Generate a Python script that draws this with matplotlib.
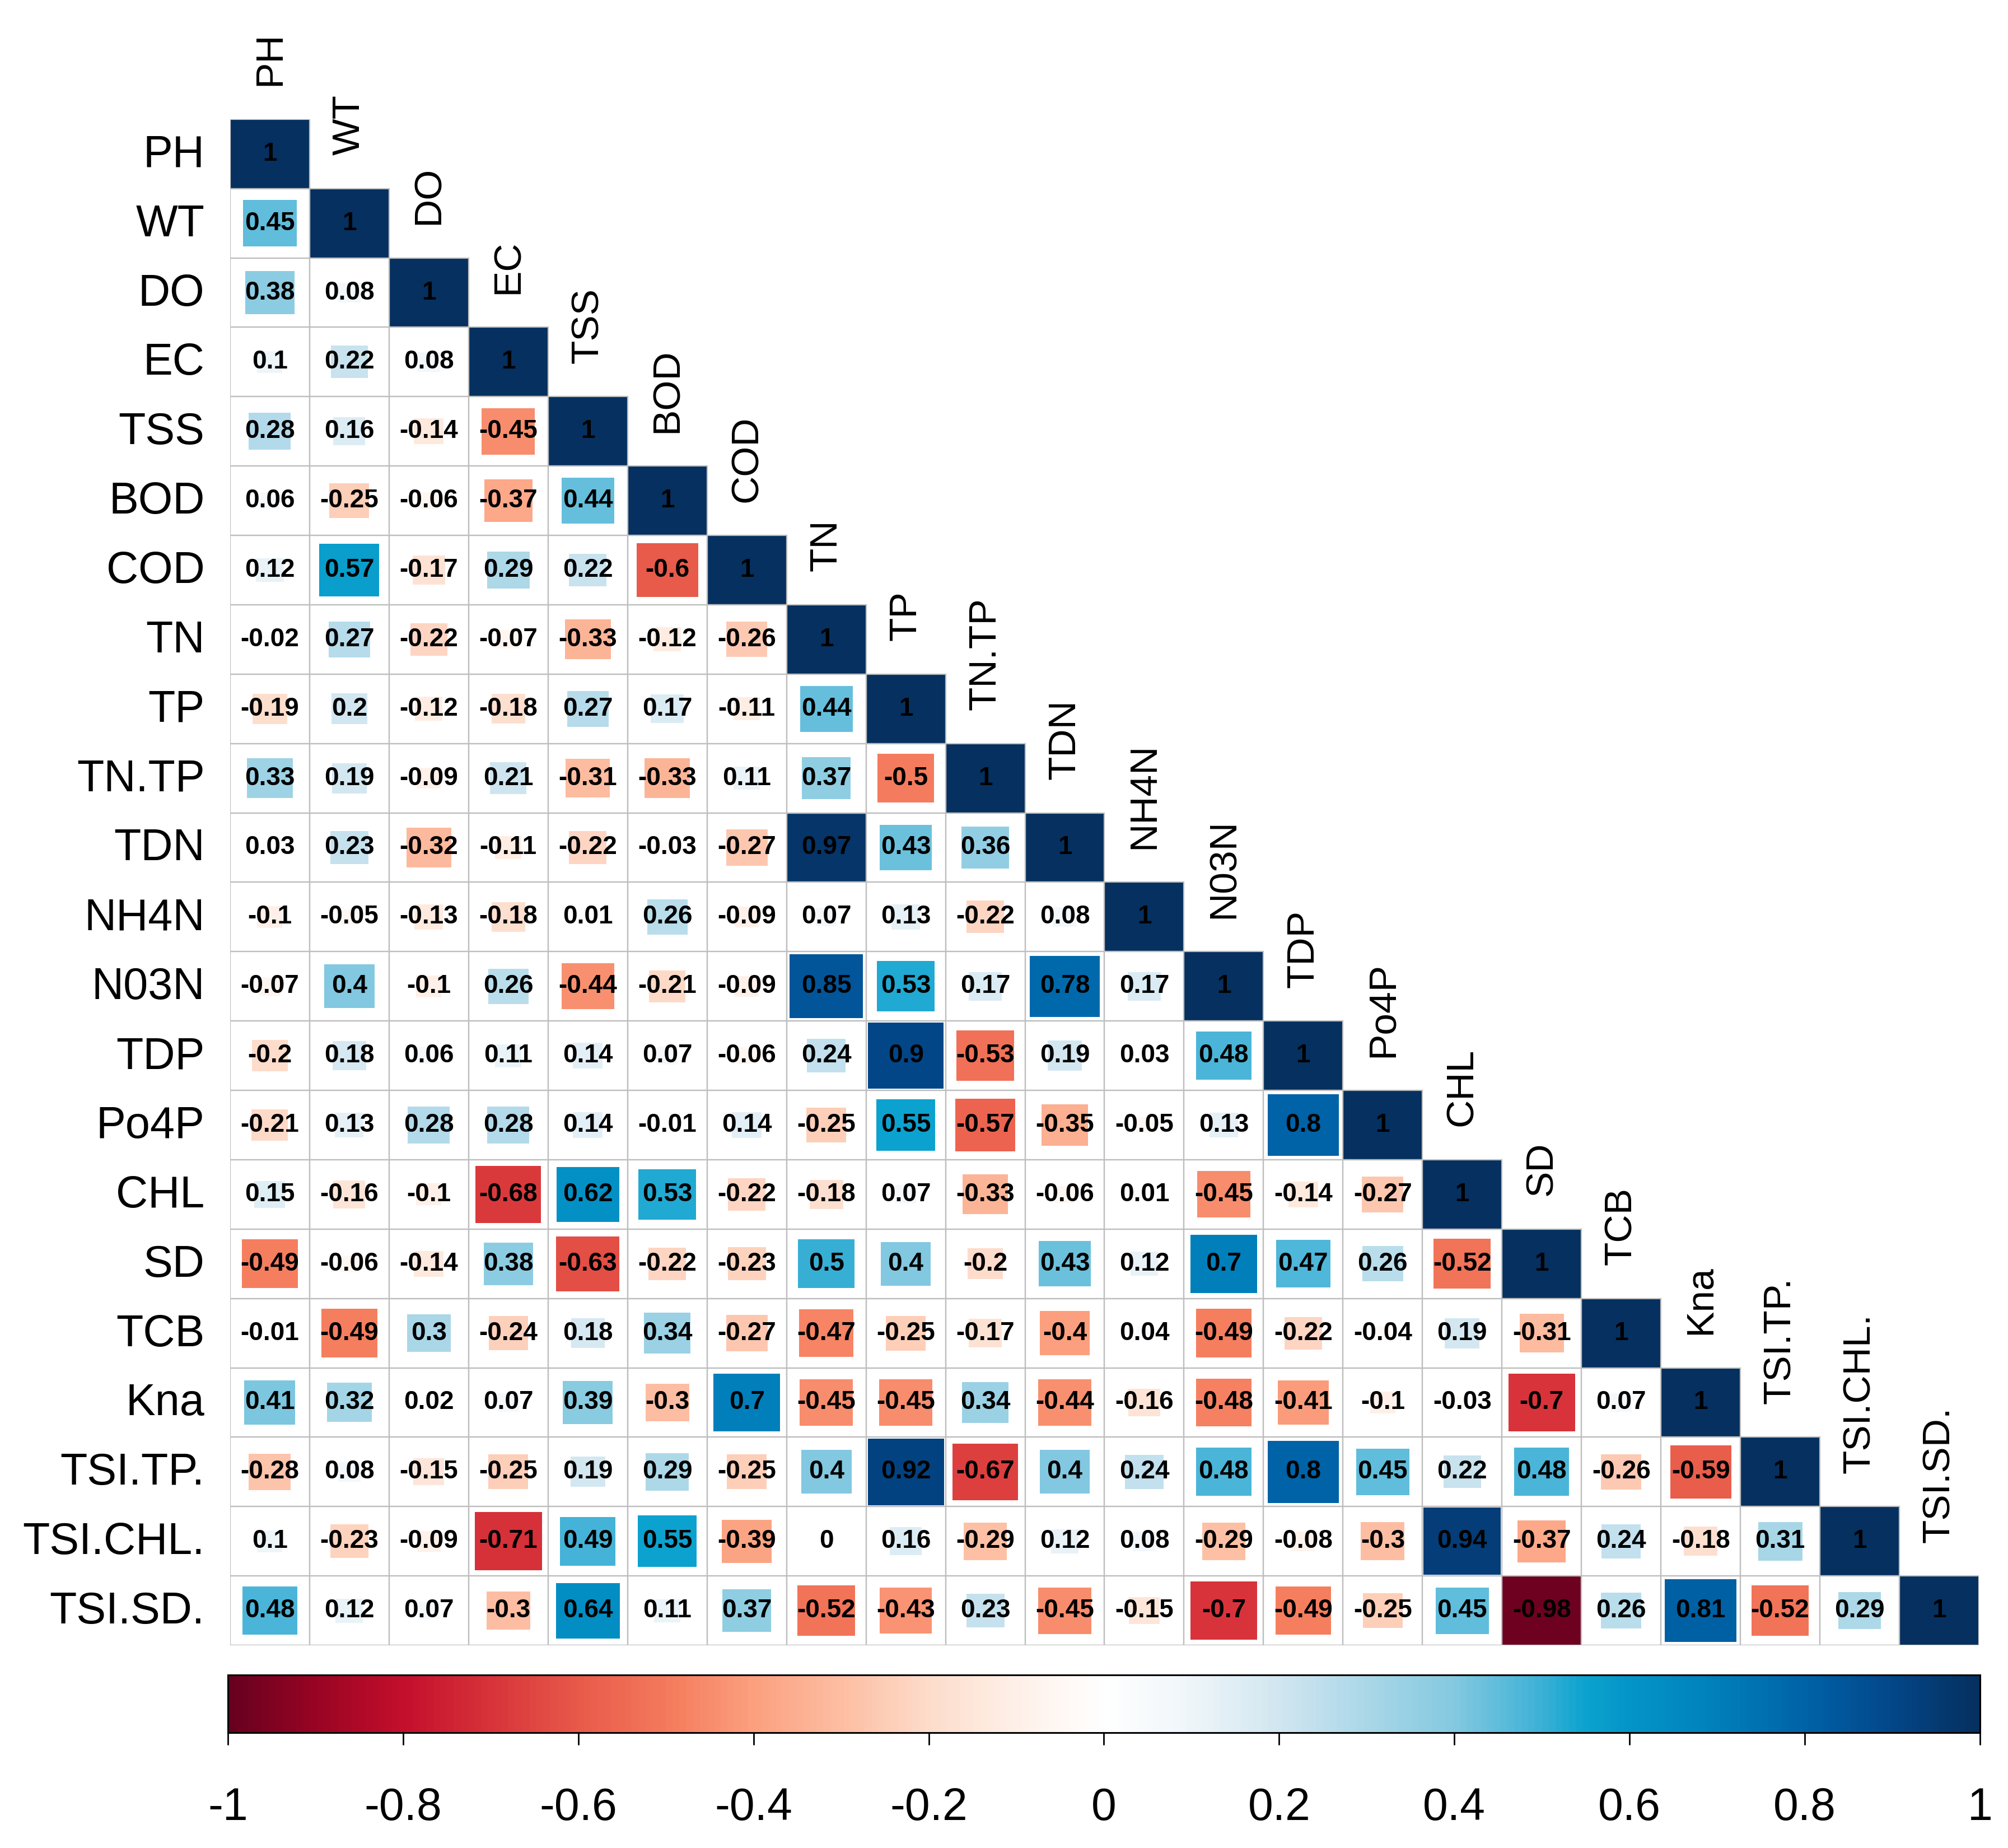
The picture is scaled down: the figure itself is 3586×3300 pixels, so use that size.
import matplotlib
matplotlib.use("Agg")
import matplotlib.pyplot as plt
import numpy as np
from matplotlib.colors import LinearSegmentedColormap, Normalize
from matplotlib.patches import Rectangle
import matplotlib.cm as cm

plt.rcParams['font.family'] = ['Liberation Sans', 'DejaVu Sans']

# variable names (rows top->bottom, columns left->right)
labels = ["PH", "WT", "DO", "EC", "TSS", "BOD", "COD", "TN", "TP", "TN.TP",
          "TDN", "NH4N", "N03N", "TDP", "Po4P", "CHL", "SD", "TCB", "Kna",
          "TSI.TP.", "TSI.CHL.", "TSI.SD."]

# lower triangle of the correlation matrix, one list per row
corr_rows = [
    [1],
    [0.45, 1],
    [0.38, 0.08, 1],
    [0.1, 0.22, 0.08, 1],
    [0.28, 0.16, -0.14, -0.45, 1],
    [0.06, -0.25, -0.06, -0.37, 0.44, 1],
    [0.12, 0.57, -0.17, 0.29, 0.22, -0.6, 1],
    [-0.02, 0.27, -0.22, -0.07, -0.33, -0.12, -0.26, 1],
    [-0.19, 0.2, -0.12, -0.18, 0.27, 0.17, -0.11, 0.44, 1],
    [0.33, 0.19, -0.09, 0.21, -0.31, -0.33, 0.11, 0.37, -0.5, 1],
    [0.03, 0.23, -0.32, -0.11, -0.22, -0.03, -0.27, 0.97, 0.43, 0.36, 1],
    [-0.1, -0.05, -0.13, -0.18, 0.01, 0.26, -0.09, 0.07, 0.13, -0.22, 0.08, 1],
    [-0.07, 0.4, -0.1, 0.26, -0.44, -0.21, -0.09, 0.85, 0.53, 0.17, 0.78, 0.17, 1],
    [-0.2, 0.18, 0.06, 0.11, 0.14, 0.07, -0.06, 0.24, 0.9, -0.53, 0.19, 0.03, 0.48, 1],
    [-0.21, 0.13, 0.28, 0.28, 0.14, -0.01, 0.14, -0.25, 0.55, -0.57, -0.35, -0.05, 0.13, 0.8, 1],
    [0.15, -0.16, -0.1, -0.68, 0.62, 0.53, -0.22, -0.18, 0.07, -0.33, -0.06, 0.01, -0.45, -0.14, -0.27, 1],
    [-0.49, -0.06, -0.14, 0.38, -0.63, -0.22, -0.23, 0.5, 0.4, -0.2, 0.43, 0.12, 0.7, 0.47, 0.26, -0.52, 1],
    [-0.01, -0.49, 0.3, -0.24, 0.18, 0.34, -0.27, -0.47, -0.25, -0.17, -0.4, 0.04, -0.49, -0.22, -0.04, 0.19, -0.31, 1],
    [0.41, 0.32, 0.02, 0.07, 0.39, -0.3, 0.7, -0.45, -0.45, 0.34, -0.44, -0.16, -0.48, -0.41, -0.1, -0.03, -0.7, 0.07, 1],
    [-0.28, 0.08, -0.15, -0.25, 0.19, 0.29, -0.25, 0.4, 0.92, -0.67, 0.4, 0.24, 0.48, 0.8, 0.45, 0.22, 0.48, -0.26, -0.59, 1],
    [0.1, -0.23, -0.09, -0.71, 0.49, 0.55, -0.39, 0, 0.16, -0.29, 0.12, 0.08, -0.29, -0.08, -0.3, 0.94, -0.37, 0.24, -0.18, 0.31, 1],
    [0.48, 0.12, 0.07, -0.3, 0.64, 0.11, 0.37, -0.52, -0.43, 0.23, -0.45, -0.15, -0.7, -0.49, -0.25, 0.45, -0.98, 0.26, 0.81, -0.52, 0.29, 1],
]

cbar_ticks = [-1, -0.8, -0.6, -0.4, -0.2, 0, 0.2, 0.4, 0.6, 0.8, 1]
cbar_ticklabels = ["-1", "-0.8", "-0.6", "-0.4", "-0.2", "0", "0.2", "0.4", "0.6", "0.8", "1"]

# colour ramp (red - white - blue)
stops = [
    (-1.0, "#67001F"), (-0.9, "#9A0423"), (-0.8, "#C40F2C"), (-0.7, "#D8343A"),
    (-0.6, "#E85A4A"), (-0.5, "#F47A5C"), (-0.4, "#FBA07F"), (-0.3, "#FDBEA3"),
    (-0.2, "#FDDCCB"), (-0.1, "#FEF0E8"), (0.0, "#FFFFFF"), (0.1, "#EEF5F9"),
    (0.2, "#D1E6F0"), (0.3, "#ABD7E8"), (0.4, "#84C9E0"), (0.5, "#3DB1D6"),
    (0.55, "#0CA3CF"), (0.6, "#0495C8"), (0.7, "#0080BB"), (0.8, "#0063A8"),
    (0.9, "#03478A"), (1.0, "#05305F"),
]
cmap = LinearSegmentedColormap.from_list("corr", [((v + 1) / 2, c) for v, c in stops])
norm = Normalize(vmin=-1, vmax=1)

n = len(labels)
fig = plt.figure(figsize=(35.86, 33), dpi=100)
ax = fig.add_axes([0.1146, 0.1097, 0.8709, 0.8258])
ax.set_xlim(0, n)
ax.set_ylim(n, 0)
ax.axis('off')

grid_col = "#BEBEBE"
for i, row in enumerate(corr_rows):
    for j, r in enumerate(row):
        ax.add_patch(Rectangle((j, i), 1, 1, facecolor="white", edgecolor="none", zorder=1))
        s = np.sqrt(abs(r))
        ax.add_patch(Rectangle((j + 0.5 - s / 2, i + 0.5 - s / 2), s, s,
                               facecolor=cmap(norm(r)), edgecolor="none", zorder=2))
        ax.add_patch(Rectangle((j, i), 1, 1, fill=False, edgecolor=grid_col,
                               linewidth=1.6, zorder=3))
        ax.text(j + 0.5, i + 0.5, f"{r:g}", ha='center', va='center',
                fontsize=33, fontweight='bold', color='black', zorder=4)

# row labels (left) and column labels (over the diagonal)
for i, lab in enumerate(labels):
    ax.text(-0.32, i + 0.52, lab, ha='right', va='center', fontsize=57, color='black')
    ax.text(i + 0.5, i - 0.48, lab, ha='center', va='bottom', rotation=90,
            fontsize=50, color='black')

# colour legend
cax = fig.add_axes([0.1135, 0.0624, 0.8725, 0.0312])
sm = cm.ScalarMappable(norm=norm, cmap=cmap)
cb = fig.colorbar(sm, cax=cax, orientation='horizontal', ticks=cbar_ticks)
cb.ax.set_xticklabels(cbar_ticklabels)
cb.outline.set_linewidth(2.2)
cb.outline.set_edgecolor('black')
cb.ax.tick_params(axis='x', length=16, width=2, color='black', pad=54,
                  labelsize=58, direction='out')

fig.savefig("out.png", dpi=100, facecolor='white')
